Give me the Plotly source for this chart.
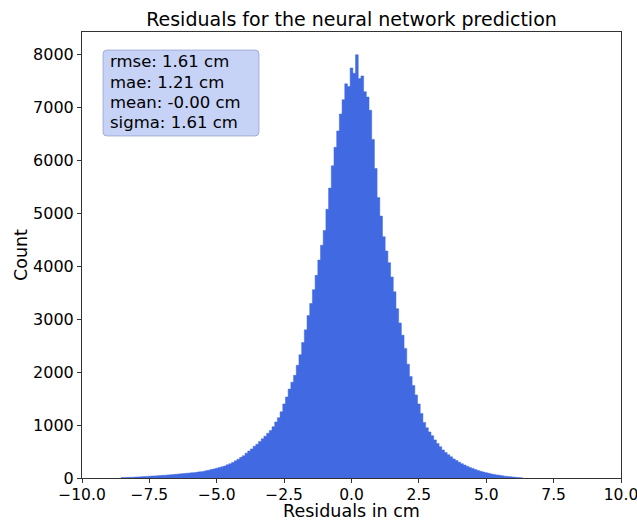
import plotly.graph_objects as go

# Bin left edges (cm) and counts (bin width 0.1 cm)
bin_start = -8.55
bin_width = 0.1
counts = [
    8, 10, 12, 14, 16, 18, 21, 24, 27, 30,            # -8.5 .. -7.6
    34, 37, 40, 43, 47, 50, 54, 58, 62, 66,           # -7.5 .. -6.6
    70, 75, 80, 85, 90, 95, 100, 105, 112, 118,       # -6.5 .. -5.6
    125, 135, 147, 160, 172, 185, 198, 212, 228, 250, # -5.5 .. -4.6
    270, 295, 325, 355, 390, 420, 470, 510, 550, 600, # -4.5 .. -3.6
    640, 690, 740, 790, 845, 900, 970, 1060, 1140, 1250,   # -3.5 .. -2.6
    1400, 1530, 1680, 1810, 1940, 2130, 2330, 2560, 2800, 3070,  # -2.5 .. -1.6
    3300, 3560, 3830, 4120, 4400, 4680, 5080, 5480, 5900, 6250,  # -1.5 .. -0.6
    6560, 6880, 7150, 7450, 7400, 7750, 7650, 8000, 7550, 7600,  # -0.5 .. 0.4
    7300, 7200, 6950, 6400, 5850, 5300, 4950, 4560, 4290, 4070,  # 0.5 .. 1.4
    3800, 3520, 3200, 2930, 2700, 2450, 2150, 1920, 1750, 1570,  # 1.5 .. 2.4
    1400, 1220, 1050, 950, 870, 800, 720, 650, 590, 530,         # 2.5 .. 3.4
    480, 440, 400, 360, 330, 300, 270, 245, 222, 200,            # 3.5 .. 4.4
    180, 160, 142, 127, 113, 100, 88, 77, 67, 58,                # 4.5 .. 5.4
    50, 42, 35, 29, 24, 19, 14, 10, 6,                           # 5.5 .. 6.3
]

x_tick_vals = [-10.0, -7.5, -5.0, -2.5, 0.0, 2.5, 5.0, 7.5, 10.0]
x_tick_text = ["\u221210.0", "\u22127.5", "\u22125.0", "\u22122.5", "0.0", "2.5", "5.0", "7.5", "10.0"]
y_tick_vals = [0, 1000, 2000, 3000, 4000, 5000, 6000, 7000, 8000]

stats_lines = ["rmse: 1.61 cm", "mae: 1.21 cm", "mean: -0.00 cm", "sigma: 1.61 cm"]

BAR_COLOR = "#4169E1"
font_family = "DejaVu Sans"

# plot-area geometry in pixels
W, H = 637, 521
L, R, T, B = 82, 621, 32, 478


def xp(px):
    return (px - L) / (R - L)


def yp(py):
    return (B - py) / (B - T)


# step outline of the histogram (left edges + final right edge)
edges = [round(bin_start + i * bin_width, 3) for i in range(len(counts) + 1)]
step_x = [edges[0]] + edges
step_y = [0] + counts + [counts[-1]]
step_x = step_x + [edges[-1]]
step_y = step_y + [0]

fig = go.Figure()
fig.add_trace(go.Scatter(
    x=step_x, y=step_y, mode="lines", line_shape="hv",
    line=dict(color=BAR_COLOR, width=0.5),
    fill="tozeroy", fillcolor=BAR_COLOR,
    showlegend=False, hoverinfo="skip",
))

fig.update_layout(
    width=W, height=H,
    margin=dict(l=L, r=W - R, t=T, b=H - B),
    paper_bgcolor="white", plot_bgcolor="white",
    font=dict(family=font_family, color="black"),
    title=dict(text="Residuals for the neural network prediction",
               x=(L + R) / 2 / W, xanchor="center",
               y=1 - 19 / H, yanchor="middle",
               font=dict(size=19, family=font_family)),
    xaxis=dict(range=[-10, 10], tickvals=x_tick_vals, ticktext=x_tick_text,
               ticks="outside", ticklen=4, tickcolor="#333",
               showline=True, mirror=True, linecolor="#333", linewidth=1,
               showgrid=False, zeroline=False, automargin=False,
               ticklabeloverflow="allow", ticklabelstandoff=-2,
               tickfont=dict(size=15.5),
               title=dict(text="Residuals in cm", font=dict(size=17.5), standoff=1)),
    yaxis=dict(range=[0, 8430], tickvals=y_tick_vals,
               ticks="outside", ticklen=4, tickcolor="#333",
               showline=True, mirror=True, linecolor="#333", linewidth=1,
               showgrid=False, zeroline=False, automargin=False,
               tickfont=dict(size=16),
               title=dict(text="Count", font=dict(size=17.5), standoff=0)),
)

# rounded stats box
bx0, bx1, by0, by1, rad = 103, 259, 50, 136, 4
rx, ry = rad / (R - L), rad / (B - T)
X0, X1, Y0, Y1 = xp(bx0), xp(bx1), yp(by1), yp(by0)
path = (f"M {X0 + rx},{Y0} L {X1 - rx},{Y0} Q {X1},{Y0} {X1},{Y0 + ry} "
        f"L {X1},{Y1 - ry} Q {X1},{Y1} {X1 - rx},{Y1} "
        f"L {X0 + rx},{Y1} Q {X0},{Y1} {X0},{Y1 - ry} "
        f"L {X0},{Y0 + ry} Q {X0},{Y0} {X0 + rx},{Y0} Z")
fig.add_shape(type="path", path=path, xref="paper", yref="paper",
              fillcolor="rgba(65,105,225,0.30)",
              line=dict(color="rgba(120,135,190,0.55)", width=1), layer="above")

line_centres = [62, 82, 102, 122]
for txt, cy in zip(stats_lines, line_centres):
    fig.add_annotation(
        xref="paper", yref="paper", x=xp(108), y=yp(cy),
        xanchor="left", yanchor="middle", showarrow=False,
        text=txt, align="left",
        font=dict(size=16.5, family=font_family, color="black"),
    )

fig.write_html("out.html")
